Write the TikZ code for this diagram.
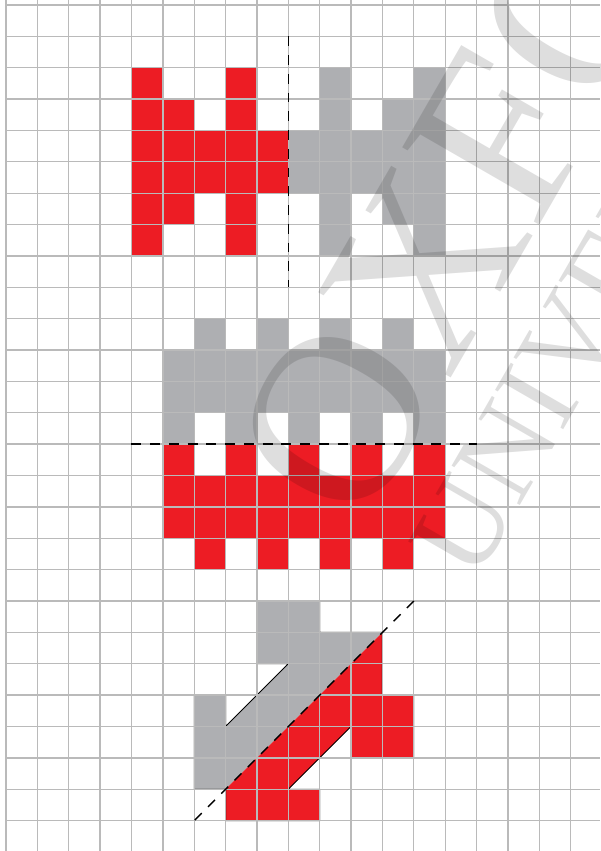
\documentclass[tikz,border=0pt]{standalone}
\usepackage{fontspec}
\usepackage{tikz}
\newfontfamily\wmfont{Liberation Serif}
\definecolor{figred}{RGB}{237,28,36}
\definecolor{figgrey}{RGB}{174,175,178}
\tikzset{redcell/.style={fill=figred},
  greycell/.style={fill=figgrey},
  edgeline/.style={draw=black, line width=.8pt},
  gridline/.style={draw=black!27, line width=1.2pt},
  mirrorline/.style={draw=black, line width=1.2pt, dash pattern=on 9pt off 8pt},
  watermark/.style={text=black, text opacity=.13, inner sep=0, anchor=west, rotate=60}}
\newcommand{\topshape}{(4,2) -- (5,2) -- (5,3) -- (6,3) -- (6,4) -- (7,4) -- (7,2) -- (8,2) -- (8,4) -- (9,4)
  -- (9,6) -- (8,6) -- (8,8) -- (7,8) -- (7,6) -- (6,6) -- (6,7) -- (5,7) -- (5,8) -- (4,8) -- cycle}

\begin{document}
\begin{tikzpicture}
\useasboundingbox (-0.191,-0.969) rectangle (18.936,26.159);
\fill[white] (-0.191,-0.969) rectangle (18.936,26.159);
% rows counted from the top
\begin{scope}[shift={(0,26)}, yscale=-1]
  % reflection in a vertical line
  \filldraw[redcell, edgeline] \topshape;
  \begin{scope}[xshift=18cm, xscale=-1]
    \filldraw[greycell, edgeline] \topshape;
  \end{scope}
  % reflection in a horizontal line
  \filldraw[greycell, edgeline] (5,11) rectangle (14,13);
  \foreach \c in {6,8,10,12} {
    \filldraw[greycell, edgeline] (\c,10) rectangle ++(1,1);
    \filldraw[redcell, edgeline] (\c,17) rectangle ++(1,1);
  }
  \foreach \c in {5,7,...,13} {
    \filldraw[greycell, edgeline] (\c,13) rectangle ++(1,1);
    \filldraw[redcell, edgeline] (\c,14) rectangle ++(1,1);
  }
  \filldraw[redcell, edgeline] (5,15) rectangle (14,17);
  % reflection in a diagonal line
  \fill[greycell] (12,20) -- (10,20) -- (10,19) -- (8,19) -- (8,21) -- (9,21) -- (7,23) -- (7,22) -- (6,22) -- (6,25) -- (7,25) -- cycle;
  \draw[edgeline] (12,20) -- (10,20) -- (10,19) -- (8,19) -- (8,21) -- (9,21) -- (7,23) -- (7,22) -- (6,22) -- (6,25) -- (7,25);
  \fill[redcell] (12,20) -- (12,22) -- (13,22) -- (13,24) -- (11,24) -- (11,23) -- (9,25) -- (10,25) -- (10,26) -- (7,26) -- (7,25) -- cycle;
  \draw[edgeline] (12,20) -- (12,22) -- (13,22) -- (13,24) -- (11,24) -- (11,23) -- (9,25) -- (10,25) -- (10,26) -- (7,26) -- (7,25);
\end{scope}
\draw[gridline] (0,-0.969) grid (18.936,26.159);
\begin{scope}[shift={(0,26)}, yscale=-1]
  \draw[mirrorline] (9,1) -- (9,9);
  \draw[mirrorline] (4,14) -- (15,14);
  \draw[mirrorline] (13,19) -- (6,26);
\end{scope}
\node[watermark, font=\wmfont\fontsize{218}{218}\selectfont] (wmoxford) at (9.17,10.41) {OXFORD};
\node[watermark, font=\wmfont\fontsize{109}{109}\selectfont] (wmpress) at (13.88,8.17) {UNIVERSITY PRESS};
\end{tikzpicture}
\end{document}
